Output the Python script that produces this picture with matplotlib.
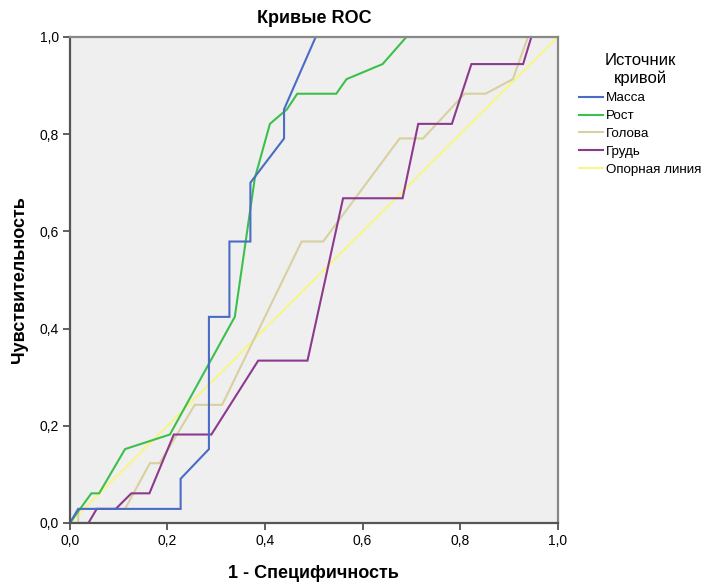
import matplotlib
matplotlib.use('Agg')
import matplotlib.pyplot as plt
from matplotlib.ticker import FuncFormatter

plt.rcParams['font.family'] = ['Liberation Sans', 'DejaVu Sans']

# ROC curves (1 - specificity, sensitivity)
massa_x = [0.0, 0.017, 0.227, 0.227, 0.285, 0.285, 0.327, 0.327, 0.370, 0.370, 0.439, 0.439, 0.504, 1.0]
massa_y = [0.0, 0.029, 0.029, 0.091, 0.152, 0.424, 0.424, 0.579, 0.579, 0.700, 0.791, 0.851, 1.0, 1.0]

rost_x = [0.0, 0.044, 0.060, 0.113, 0.205, 0.338, 0.379, 0.410, 0.445, 0.466, 0.546, 0.567, 0.641, 0.690, 1.0]
rost_y = [0.0, 0.061, 0.061, 0.152, 0.182, 0.424, 0.709, 0.821, 0.851, 0.883, 0.883, 0.913, 0.944, 1.0, 1.0]

golova_x = [0.0, 0.017, 0.017, 0.113, 0.164, 0.184, 0.256, 0.312, 0.475, 0.519, 0.676, 0.724, 0.809, 0.852, 0.908, 0.939, 1.0]
golova_y = [0.0, 0.0, 0.029, 0.029, 0.123, 0.123, 0.243, 0.243, 0.579, 0.579, 0.791, 0.791, 0.883, 0.883, 0.913, 1.0, 1.0]

grud_x = [0.0, 0.038, 0.055, 0.094, 0.126, 0.163, 0.213, 0.290, 0.386, 0.487, 0.560, 0.682, 0.714, 0.783, 0.823, 0.929, 0.946, 1.0]
grud_y = [0.0, 0.0, 0.029, 0.029, 0.061, 0.061, 0.182, 0.182, 0.334, 0.334, 0.668, 0.668, 0.821, 0.821, 0.944, 0.944, 1.0, 1.0]

ref_x = [0.0, 1.0]
ref_y = [0.0, 1.0]

labels = ['Масса', 'Рост', 'Голова', 'Грудь', 'Опорная линия']
colors = ['#4a6cc6', '#3cc04c', '#d8d0a0', '#8b3a8e', '#f8f58a']

fig = plt.figure(figsize=(7.06, 5.85), dpi=100)
ax = fig.add_axes([0.099, 0.106, 0.691, 0.831])
ax.set_facecolor('#efefef')

series = [(massa_x, massa_y), (rost_x, rost_y), (golova_x, golova_y), (grud_x, grud_y), (ref_x, ref_y)]
# draw reference first so curves sit on top, but keep legend order
order = [4, 2, 3, 1, 0]
handles = {}
for i in order:
    xs, ys = series[i]
    ln, = ax.plot(xs, ys, color=colors[i], lw=1.5, label=labels[i], solid_joinstyle='miter')
    handles[i] = ln

ax.set_xlim(0, 1)
ax.set_ylim(0, 1)
ticks = [0, 0.2, 0.4, 0.6, 0.8, 1.0]
ax.set_xticks(ticks)
ax.set_yticks(ticks)
fmt = FuncFormatter(lambda v, p: f'{v:.1f}'.replace('.', ','))
ax.xaxis.set_major_formatter(fmt)
ax.yaxis.set_major_formatter(fmt)
ax.tick_params(direction='out', length=5, width=1.2, color='#444444', labelsize=10, pad=3)

for side in ['left', 'bottom']:
    ax.spines[side].set_color('#555555')
    ax.spines[side].set_linewidth(1.6)
for side in ['top', 'right']:
    ax.spines[side].set_color('#888888')
    ax.spines[side].set_linewidth(1.6)

ax.set_title('Кривые ROC', fontsize=13, fontweight='bold', pad=10)
ax.set_xlabel('1 - Специфичность', fontsize=13, fontweight='bold', labelpad=12)
ax.set_ylabel('Чувствительность', fontsize=13, fontweight='bold', labelpad=8)

leg = fig.legend([handles[i] for i in range(5)], labels, title='Источник\nкривой',
                 loc='upper left', bbox_to_anchor=(0.813, 0.918), frameon=False,
                 fontsize=9.6, title_fontsize=12, handlelength=1.75, handletextpad=0.25,
                 labelspacing=0.42, borderaxespad=0)
leg.get_title().set_multialignment('center')

fig.savefig('out.png', dpi=100)
